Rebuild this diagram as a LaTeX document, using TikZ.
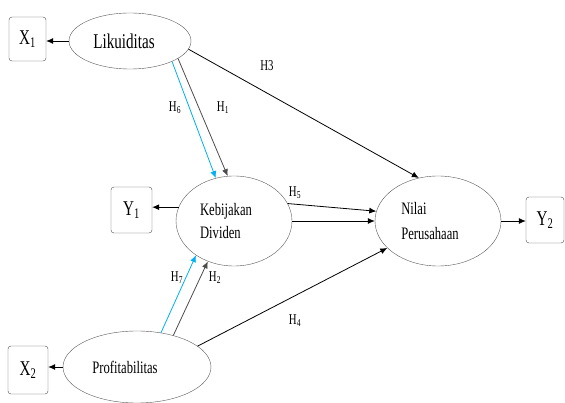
\documentclass[tikz,border=0pt]{standalone}
\usepackage{fontspec}
\setmainfont{Liberation Serif}[FakeStretch=0.72]
\usetikzlibrary{shapes.geometric,arrows.meta}
\definecolor{skyblue}{RGB}{0,176,240}

\begin{document}
\begin{tikzpicture}[
        x=1pt, y=-1pt,
        % --- 樣式設定 ---
        latent/.style={ellipse, draw=black!65, thin, inner sep=0pt, font=\fontsize{17.5}{23}\selectfont},
        indic/.style={draw=black!70, thin, rounded corners=3pt, minimum width=38pt, minimum height=46pt, inner sep=0pt, font=\fontsize{21}{22}\selectfont},
        hyp/.style={inner sep=0pt, font=\fontsize{15}{16}\selectfont},
        arr/.style={draw=black, line width=0.8pt, -{Latex[length=7pt,width=6pt]}},
        grayarr/.style={arr, draw=black!70},
        bluearr/.style={arr, draw=skyblue}
        % --------------------
    ]
    \useasboundingbox (0,0) rectangle (565,403);

    % 潛在變數
    \node[latent, minimum width=122pt, minimum height=56pt, font=\fontsize{21}{23}\selectfont] (lik) at (130,41) {Likuiditas\hspace*{12pt}};
    \node[latent, minimum width=116pt, minimum height=90pt, align=left] (keb) at (234,221) {Kebijakan\hspace*{16pt}\\Dividen};
    \node[latent, minimum width=126pt, minimum height=90pt, align=left, font=\fontsize{17.5}{25}\selectfont] (nilai) at (438,221) {Nilai\\Perusahaan\hspace*{16pt}};
    \node[latent, minimum width=148pt, minimum height=72pt] (prof) at (137,367) {Profitabilitas\hspace*{24pt}};

    % 指標
    \node[indic, minimum width=37pt, minimum height=44pt] (x1) at (27.5,39) {X\textsubscript{1}};
    \node[indic, minimum width=41pt] (y1) at (131.5,210) {Y\textsubscript{1}};
    \node[indic] (y2) at (545,220) {Y\textsubscript{2}};
    \node[indic, minimum width=40pt, minimum height=48pt] (x2) at (28,370) {X\textsubscript{2}};

    % 指標箭頭
    \draw[arr] (lik.west) -- (lik.west -| x1.east);
    \draw[arr] (keb.166) -- (keb.166 -| y1.east);
    \draw[arr] (prof.west) -- (prof.west -| x2.east);
    \draw[arr] (nilai.east) -- (nilai.east -| y2.west);

    % 假設路徑
    \draw[grayarr] (lik.-20) -- (keb.98);
    \draw[bluearr] (lik.-26) -- (keb.113);
    \draw[arr] (lik.-8) -- (nilai.114);
    \draw[arr] (keb.18) -- (nilai.171);
    \draw[arr] (keb.0) -- (nilai.180);
    \draw[arr] (prof.19) -- (nilai.208);
    \draw[bluearr] (prof.55) -- (keb.222);
    \draw[grayarr] (prof.41) -- (keb.237);

    % 標籤
    \node[hyp] (h3) at (267,66) {H3};
    \node[hyp] (h6) at (175,108) {H\textsubscript{6}};
    \node[hyp] (h1) at (223,108) {H\textsubscript{1}};
    \node[hyp] (h5) at (295,193) {H\textsubscript{5}};
    \node[hyp] (h7) at (177,278) {H\textsubscript{7}};
    \node[hyp] (h2) at (215,278) {H\textsubscript{2}};
    \node[hyp] (h4) at (295,321) {H\textsubscript{4}};
\end{tikzpicture}
\end{document}
